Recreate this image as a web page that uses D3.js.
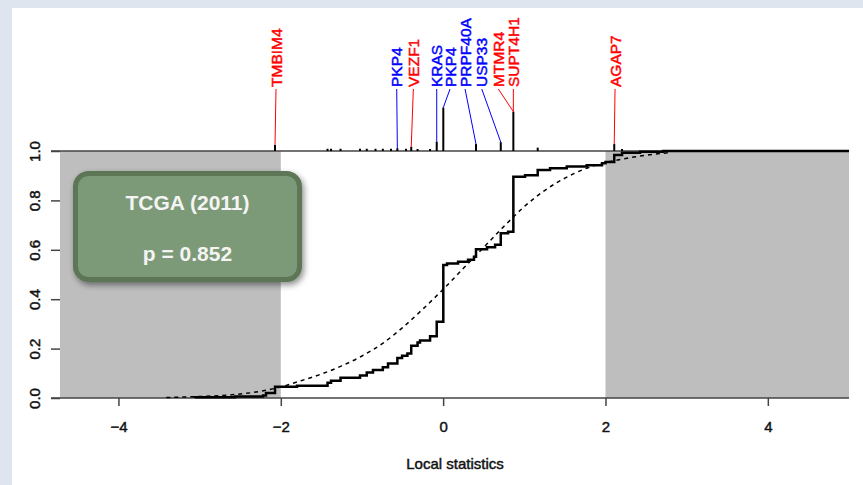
<!DOCTYPE html>
<html>
<head>
<meta charset="utf-8">
<script src="https://cdn.jsdelivr.net/npm/d3@7"></script>
<style>
  html, body { margin: 0; padding: 0; background: #ffffff; }
  svg { display: block; }
  text { font-family: "Liberation Sans", Arial, sans-serif; }
  .ink { stroke-width: 0.45px; paint-order: stroke; }
</style>
</head>
<body>
<script>
// ---- Data ----------------------------------------------------------------
// Empirical CDF of the local statistics: jump locations and level after each jump
const ecdfX = [-3.056, -2.564, -2.219, -2.182, -2.071, -1.800, -1.424, -1.381, -1.264, -1.024,
               -0.941, -0.864, -0.743, -0.679, -0.564, -0.506, -0.440, -0.393, -0.315, -0.285,
               -0.161, -0.079, 0.002, 0.048, 0.184, 0.307, 0.380, 0.405, 0.541, 0.640,
               0.710, 0.800, 0.865, 1.009, 1.165, 1.317, 1.523, 1.769, 1.958, 2.000,
               2.108, 2.204, 2.426, 2.709];
const ecdfY = [0.003, 0.006, 0.010, 0.020, 0.046, 0.050, 0.062, 0.070, 0.082, 0.091,
               0.103, 0.113, 0.125, 0.140, 0.162, 0.171, 0.180, 0.212, 0.225, 0.233,
               0.250, 0.309, 0.538, 0.545, 0.552, 0.560, 0.572, 0.602, 0.610, 0.620,
               0.667, 0.673, 0.896, 0.902, 0.923, 0.930, 0.937, 0.942, 0.950, 0.955,
               0.984, 0.993, 0.997, 1.000];

// Reference (null) distribution function, dashed
const refX = [-3.41, -3.0, -2.6, -2.2, -2.0, -1.75, -1.5, -1.25, -1.0, -0.75, -0.5, -0.25,
              0.0, 0.25, 0.5, 0.75, 1.0, 1.25, 1.5, 1.75, 2.0, 2.25, 2.5, 2.77];
const refY = [0.002, 0.006, 0.013, 0.030, 0.045, 0.070, 0.097, 0.130, 0.170, 0.220, 0.285, 0.360,
              0.440, 0.525, 0.610, 0.695, 0.775, 0.840, 0.890, 0.928, 0.953, 0.970, 0.983, 0.993];

// Rug of observed statistics with their weights
const rugX = [-2.071, -1.424, -1.381, -1.264, -1.024, -0.941, -0.833, -0.743, -0.642, -0.564,
              -0.457, -0.393, -0.315, -0.161, -0.079, 0.002, 0.405, 0.710, 0.865, 1.165,
              2.108, 2.204];
const rugW = [0.032, 0.012, 0.012, 0.012, 0.012, 0.012, 0.012, 0.012, 0.012, 0.015,
              0.012, 0.023, 0.010, 0.010, 0.050, 0.232, 0.037, 0.047, 0.210, 0.018,
              0.037, 0.010];

// Annotated genes: statistic they point at, where the label sits, direction
const genes     = ["TMBIM4", "PKP4", "VEZF1", "KRAS", "PKP4", "PRPF40A", "USP33", "MTMR4", "SUPT4H1", "AGAP7"];
const geneStat  = [-2.071, -0.564, -0.393, -0.079, 0.002, 0.405, 0.710, 0.865, 0.865, 2.108];
const geneLabel = [-2.059, -0.572, -0.367, -0.079, 0.085, 0.270, 0.476, 0.680, 0.865, 2.118];
const geneDir   = ["up", "down", "up", "down", "down", "down", "down", "up", "up", "up"];

// Shaded tails and axis ticks
const shaded = [[-4.72, -2], [2, 5]];
const xTicks = [-4, -2, 0, 2, 4];
const yTicks = [0, 0.2, 0.4, 0.6, 0.8, 1.0];

const studyName = "TCGA (2011)";
const pValue = 0.852;
const xTitle = "Local statistics";

// ---- Drawing -------------------------------------------------------------
const W = 863, H = 485;
const svg = d3.select("body").append("svg").attr("width", W).attr("height", H);

// page frame
svg.append("rect").attr("width", W).attr("height", H).attr("fill", "#dfe5ee");
svg.append("rect").attr("x", 12).attr("y", 8).attr("width", W - 12).attr("height", H - 8).attr("fill", "#ffffff");

const x = d3.scaleLinear().domain([-4.72, 5]).range([60, 849]);
const y = d3.scaleLinear().domain([0, 1]).range([398, 151]);
const rugH = d3.scaleLinear().domain([0, 0.232]).range([0, 43.5]);
const dirColor = { up: "#ff0000", down: "#0000ff" };

const FONT = 15;
const axisColor = "#444";
const textColor = "#111";

// shaded tails
svg.selectAll("rect.tail").data(shaded).join("rect")
  .attr("class", "tail")
  .attr("x", d => x(d[0])).attr("width", d => x(d[1]) - x(d[0]))
  .attr("y", y(1)).attr("height", y(0) - y(1))
  .attr("fill", "#bebebe");

// x axis
const gx = svg.append("g").attr("transform", `translate(0,${y(0)})`)
  .call(d3.axisBottom(x).tickValues(xTicks).tickSize(8).tickPadding(15));
gx.select(".domain").remove();
gx.selectAll(".tick line").attr("stroke", axisColor).attr("stroke-width", 1.5);
gx.selectAll(".tick text").attr("class", "ink")
  .attr("font-size", FONT).attr("fill", textColor).attr("stroke", textColor)
  .style("font-family", "'Liberation Sans', Arial, sans-serif");

// y axis with rotated labels
const gy = svg.append("g").attr("transform", `translate(${x.range()[0]},0)`)
  .call(d3.axisLeft(y).tickValues(yTicks).tickSize(9).tickFormat(d3.format(".1f")));
gy.select(".domain").remove();
gy.selectAll(".tick line").attr("stroke", axisColor).attr("stroke-width", 1.5);
gy.selectAll(".tick text").attr("class", "ink")
  .attr("x", 0).attr("y", -20.5).attr("dy", 0)
  .attr("transform", "rotate(-90)")
  .attr("text-anchor", "middle")
  .attr("font-size", FONT).attr("fill", textColor).attr("stroke", textColor)
  .style("font-family", "'Liberation Sans', Arial, sans-serif");

// frame lines at 0 and 1
[0, 1].forEach(v => {
  svg.append("line")
    .attr("x1", x.range()[0] - 9).attr("x2", x.range()[1])
    .attr("y1", y(v)).attr("y2", y(v))
    .attr("stroke", axisColor).attr("stroke-width", 1.5);
});

// axis title
svg.append("text").attr("class", "ink").attr("x", 455).attr("y", 469)
  .attr("text-anchor", "middle").attr("font-size", FONT)
  .attr("fill", textColor).attr("stroke", textColor)
  .text(xTitle);

// reference CDF (dashed)
const refPts = refX.map((v, i) => [v, refY[i]]);
svg.append("path").datum(refPts)
  .attr("d", d3.line().x(d => x(d[0])).y(d => y(d[1])).curve(d3.curveMonotoneX))
  .attr("fill", "none").attr("stroke", "#000").attr("stroke-width", 1.5)
  .attr("stroke-dasharray", "4,4");

// empirical CDF (step)
const ecdfPts = [[ecdfX[0], 0]].concat(ecdfX.map((v, i) => [v, ecdfY[i]]), [[x.domain()[1], 1]]);
svg.append("path").datum(ecdfPts)
  .attr("d", d3.line().x(d => x(d[0])).y(d => y(d[1])).curve(d3.curveStepAfter))
  .attr("fill", "none").attr("stroke", "#000").attr("stroke-width", 2.5);

// rug at the top
const rugTop = y(1);
svg.selectAll("line.rug").data(rugX).join("line")
  .attr("class", "rug")
  .attr("x1", d => x(d)).attr("x2", d => x(d))
  .attr("y1", rugTop).attr("y2", (d, i) => rugTop - Math.max(2, rugH(rugW[i])))
  .attr("stroke", "#000").attr("stroke-width", 2);

// gene labels with leader lines
const labelBase = 87;
genes.forEach((g, i) => {
  const col = dirColor[geneDir[i]];
  const lx = x(geneLabel[i]);
  const tx = x(geneStat[i]);
  const k = rugX.indexOf(geneStat[i]);
  const tickTop = rugTop - (k >= 0 ? Math.max(2, rugH(rugW[k])) : 2);
  svg.append("line")
    .attr("x1", lx).attr("y1", labelBase + 2)
    .attr("x2", tx).attr("y2", tickTop)
    .attr("stroke", col).attr("stroke-width", 1);
  svg.append("text").attr("class", "ink")
    .attr("transform", `translate(${lx + 5.6},${labelBase}) rotate(-90)`)
    .attr("text-anchor", "start").attr("font-size", 15.5)
    .attr("fill", col).attr("stroke", col)
    .text(g);
});

// study badge
const defs = svg.append("defs");
const f = defs.append("filter").attr("id", "badgeShadow")
  .attr("x", "-20%").attr("y", "-20%").attr("width", "140%").attr("height", "150%");
f.append("feDropShadow").attr("dx", 2).attr("dy", 3).attr("stdDeviation", 3)
  .attr("flood-color", "#000").attr("flood-opacity", 0.45);

const badge = svg.append("g");
badge.append("rect")
  .attr("x", 75.5).attr("y", 173.5).attr("width", 224).attr("height", 106)
  .attr("rx", 13).attr("ry", 13)
  .attr("fill", "#7b9a77").attr("stroke", "#5c7657").attr("stroke-width", 5)
  .attr("filter", "url(#badgeShadow)");
badge.append("text").attr("x", 187.5).attr("y", 210)
  .attr("text-anchor", "middle").attr("font-size", 21).attr("font-weight", "bold")
  .attr("fill", "#f4f4f4").text(studyName);
badge.append("text").attr("x", 187.5).attr("y", 261)
  .attr("text-anchor", "middle").attr("font-size", 21).attr("font-weight", "bold")
  .attr("fill", "#f4f4f4").text("p = " + d3.format(".3f")(pValue));
</script>
</body>
</html>
